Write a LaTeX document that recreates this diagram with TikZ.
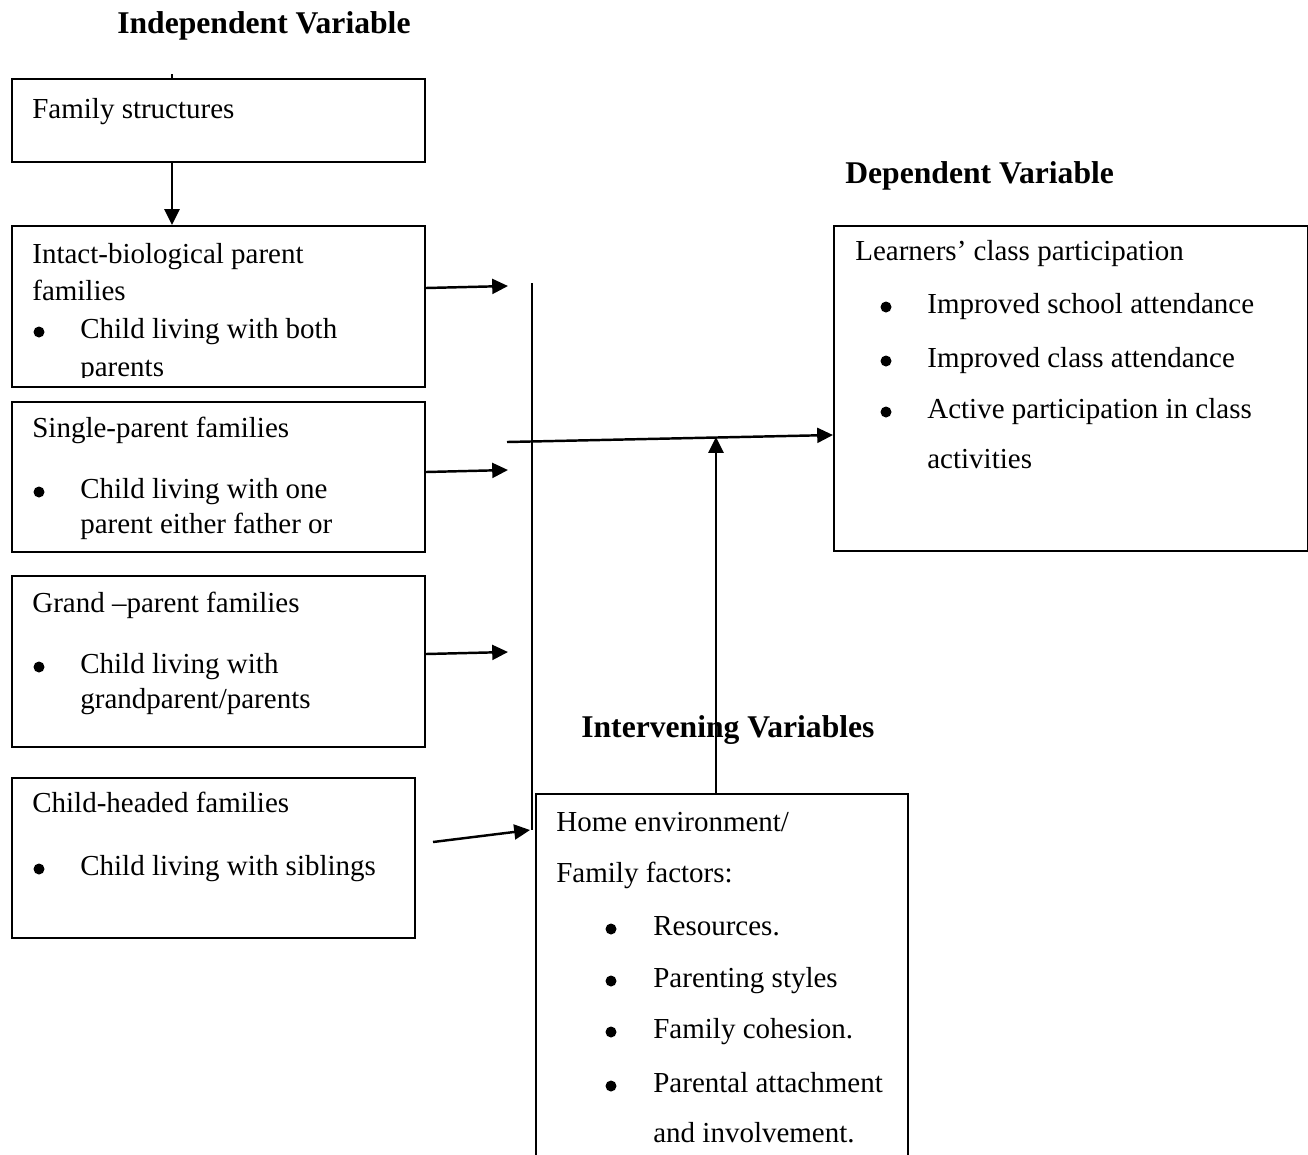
\documentclass[tikz,border=0pt]{standalone}
\usepackage{fontspec}
\setmainfont{Liberation Serif}
\usetikzlibrary{arrows.meta}
\newlength\px
\setlength\px{0.02cm}
\tikzset{
  box/.style={draw, line width=1.1pt, rectangle, inner sep=0pt, anchor=north west},
  txt/.style={inner sep=0pt, anchor=base west, font=\fontsize{16.5}{20}\selectfont},
  bul/.style={circle, fill, inner sep=0pt, minimum size=11\px},
  ttl/.style={inner sep=0pt, anchor=base west, font=\fontsize{18}{22}\selectfont\bfseries},
  arr/.style={line width=1.4pt, -{Triangle[length=9pt,width=8.5pt]}},
  ln/.style={line width=1.4pt}
}
\begin{document}
\begin{tikzpicture}[x=0.02cm, y=-0.02cm]
\useasboundingbox (0,0) rectangle (1308,1154);

% titles
\node[ttl] (tind) at (117,33) {Independent Variable};
\node[ttl] (tdep) at (845,183) {Dependent Variable};
\node[ttl] (tint) at (581,737) {Intervening Variables};

% boxes
\node[box, minimum width=413\px, minimum height=83\px] (fs) at (11,78) {};
\node[box, minimum width=413\px, minimum height=161\px] (ib) at (11,225) {};
\node[box, minimum width=413\px, minimum height=150\px] (sp) at (11,401) {};
\node[box, minimum width=413\px, minimum height=171\px] (gp) at (11,575) {};
\node[box, minimum width=403\px, minimum height=160\px] (ch) at (11,777) {};
\node[box, minimum width=474\px, minimum height=325\px] (dv) at (833,225) {};
\node[inner sep=0pt, anchor=north west, minimum width=371\px, minimum height=362\px] (iv) at (536,794) {};
\draw[line width=1.1pt] (iv.south west) -- (iv.north west) -- (iv.north east) -- (iv.south east);

% family structures text
\node[txt] (fst) at (32,118) {Family structures};
\draw[line width=1.4pt] (172,74) coordinate (stub) -- (fs.north -| stub);

% intact
\node[txt] (ib1) at (32,263) {Intact-biological parent};
\node[txt] (ib2) at (32,300) {families};
\node[bul] (ibb) at (39,332) {};
\node[txt] (ib3) at (80,338) {Child living with both};
\begin{scope}
\clip (11,225) rectangle (424,377);
\node[txt] (ib4) at (80,376) {parents};
\end{scope}

% single
\node[txt] (sp1) at (32,437) {Single-parent families};
\node[bul] (spb) at (39,492) {};
\node[txt] (sp2) at (80,498) {Child living with one};
\node[txt] (sp3) at (80,533) {parent either father or};

% grand
\node[txt] (gp1) at (32,612) {Grand –parent families};
\node[bul] (gpb) at (39,667) {};
\node[txt] (gp2) at (80,673) {Child living with};
\node[txt] (gp3) at (80,708) {grandparent/parents};

% child-headed
\node[txt] (ch1) at (32,812) {Child-headed families};
\node[bul] (chb) at (39,869) {};
\node[txt] (ch2) at (80,875) {Child living with siblings};

% dependent
\node[txt] (dv1) at (855,260) {Learners’ class participation};
\node[bul] (dvb1) at (886,307) {};
\node[txt] (dv2) at (927,313) {Improved school attendance};
\node[bul] (dvb2) at (886,361) {};
\node[txt] (dv3) at (927,367) {Improved class attendance};
\node[bul] (dvb3) at (886,412) {};
\node[txt] (dv4) at (927,418) {Active participation in class};
\node[txt] (dv5) at (927,468) {activities};

% intervening
\node[txt] (iv1) at (556,831) {Home environment/};
\node[txt] (iv2) at (556,882) {Family factors:};
\node[bul] (ivb1) at (611,929) {};
\node[txt] (iv3) at (653,935) {Resources.};
\node[bul] (ivb2) at (611,981) {};
\node[txt] (iv4) at (653,987) {Parenting styles};
\node[bul] (ivb3) at (611,1032) {};
\node[txt] (iv5) at (653,1038) {Family cohesion.};
\node[bul] (ivb4) at (611,1086) {};
\node[txt] (iv6) at (653,1092) {Parental attachment};
\node[txt] (iv7) at (653,1142) {and involvement.};

% connectors
\coordinate (a1) at (508,286);
\coordinate (a2) at (508,470);
\coordinate (a3) at (508,652);
\coordinate (a4) at (530,830);
\coordinate (c4) at (433,842);
\coordinate (vtop) at (532,283);
\coordinate (vbot) at (532,830);
\coordinate (hs) at (507,442);
\coordinate (up) at (716,437);

\draw[arr] (fs.south -| 172,0) -- (ib.north -| 172,0);
\draw[arr] (ib.east |- 0,288) -- (a1);
\draw[arr] (sp.east |- 0,472) -- (a2);
\draw[arr] (gp.east |- 0,654) -- (a3);
\draw[arr] (c4) -- (a4);
\draw[ln] (vtop) -- (vbot);
\draw[arr] (hs) -- (dv.west |- 0,435);
\draw[arr] (iv.north -| 716,0) -- (up);
\end{tikzpicture}
\end{document}
